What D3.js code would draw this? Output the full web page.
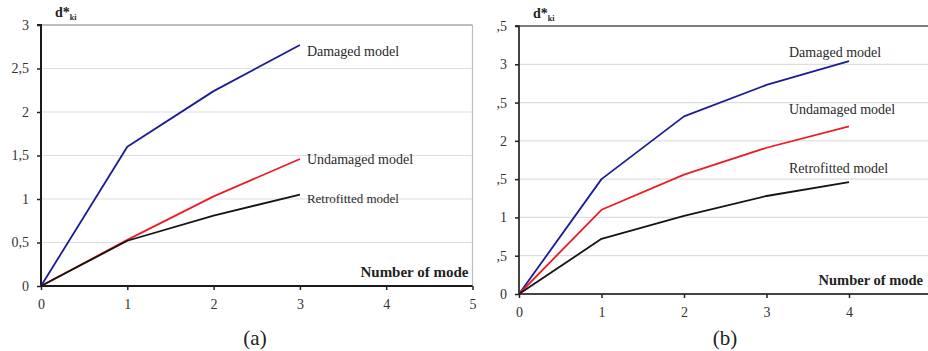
<!DOCTYPE html>
<html>
<head>
<meta charset="utf-8">
<script src="https://cdn.jsdelivr.net/npm/d3@7"></script>
<style>
  html, body { margin: 0; padding: 0; background: #fff; }
  svg { display: block; }
  svg text { font-family: "Liberation Serif", "Times New Roman", "DejaVu Serif", serif; }
</style>
</head>
<body>
<svg id="chart" width="928" height="351"></svg>
<script>
// Normalised modal displacement d*ki per mode number, two buildings
const modesA = [0, 1, 2, 3];
const damagedA = [0, 1.60, 2.24, 2.77];
const undamagedA = [0, 0.53, 1.03, 1.46];
const retrofittedA = [0, 0.52, 0.81, 1.05];

const modesB = [0, 1, 2, 3, 4];
const damagedB = [0, 1.50, 2.32, 2.73, 3.04];
const undamagedB = [0, 1.10, 1.56, 1.91, 2.19];
const retrofittedB = [0, 0.72, 1.02, 1.28, 1.46];

const seriesNames = ["Damaged model", "Undamaged model", "Retrofitted model"];
const seriesColors = ["#1c1c96", "#ec1c24", "#141414"];

const xTicksA = [0, 1, 2, 3, 4, 5];
const xTicksB = [0, 1, 2, 3, 4];
const yTicksA = [0, 0.5, 1, 1.5, 2, 2.5, 3];
const yLabelsA = ["0", "0,5", "1", "1,5", "2", "2,5", "3"];
const yTicksB = [0, 0.5, 1, 1.5, 2, 2.5, 3, 3.5];
const yLabelsB = ["0", ",5", "1", ",5", "2", ",5", "3", ",5"];

const svg = d3.select("#chart");

function panel(cfg) {
  const x = d3.scaleLinear().domain([0, 5]).range([cfg.left, cfg.right]);
  const y = d3.scaleLinear().domain([0, cfg.yMax]).range([cfg.bottom, cfg.top]);
  const g = svg.append("g");

  // horizontal gridlines
  g.selectAll("line.grid").data(cfg.yTicks.filter(t => t > 0 && t < cfg.yMax)).join("line")
    .attr("x1", cfg.left).attr("x2", cfg.right)
    .attr("y1", d => y(d)).attr("y2", d => y(d))
    .attr("stroke", "#dedede").attr("stroke-width", 1.2);

  // top border of the plot area
  g.append("line").attr("x1", cfg.left).attr("x2", cfg.right)
    .attr("y1", y(cfg.yMax)).attr("y2", y(cfg.yMax))
    .attr("stroke", cfg.topColor).attr("stroke-width", 1.5);

  if (cfg.rightFrame) {
    g.append("line").attr("x1", cfg.right).attr("x2", cfg.right)
      .attr("y1", y(cfg.yMax)).attr("y2", y(0))
      .attr("stroke", "#bdbdbd").attr("stroke-width", 1.2);
  }

  // axes
  const yAxis = d3.axisLeft(y).tickValues(cfg.yTicks)
    .tickFormat((d, i) => cfg.yLabels[i]).tickSize(4).tickPadding(8);
  const ya = g.append("g").attr("transform", `translate(${cfg.left},0)`).call(yAxis);
  const xAxis = d3.axisBottom(x).tickValues(cfg.xTicks).tickFormat(d3.format("d")).tickSize(4).tickPadding(9);
  const xa = g.append("g").attr("transform", `translate(0,${cfg.bottom})`).call(xAxis);
  [ya, xa].forEach(a => {
    a.select(".domain").attr("stroke", cfg.axisColor).attr("stroke-width", 2);
    a.selectAll(".tick line").attr("stroke", "#222").attr("stroke-width", 1.5);
    a.selectAll(".tick text").attr("fill", "#333").attr("font-size", 14)
      .attr("font-family", null);
  });
  ya.select(".domain").attr("d", `M-4,${y(cfg.yMax)}H0V${y(0)}`);
  xa.select(".domain").attr("d", `M${cfg.left},0H${cfg.right}`);

  // series lines
  const line = d3.line().x((d, i) => x(cfg.modes[i])).y(d => y(d));
  cfg.series.forEach((vals, k) => {
    g.append("path").datum(vals)
      .attr("d", line)
      .attr("fill", "none")
      .attr("stroke", seriesColors[k])
      .attr("stroke-width", 1.8)
      .attr("stroke-linejoin", "round");
  });

  // series labels beside the last mode
  const last = cfg.modes.length - 1;
  cfg.series.forEach((vals, k) => {
    g.append("text")
      .attr("x", x(cfg.modes[last]) + cfg.labelDx)
      .attr("y", y(vals[last]) + cfg.labelDy[k])
      .attr("fill", "#2a2a2a")
      .attr("font-size", cfg.labelSize[k])
      .text(seriesNames[k]);
  });

  // axis titles
  const yt = g.append("text").attr("x", cfg.left + 14).attr("y", cfg.top - 8)
    .attr("font-weight", "bold").attr("font-size", 14).attr("fill", "#222");
  yt.append("tspan").text("d*");
  yt.append("tspan").attr("font-size", 8).attr("dy", 3).text("ki");

  g.append("text").attr("x", Math.min(cfg.right, 927) - 4).attr("y", cfg.bottom - 9)
    .attr("text-anchor", "end").attr("font-weight", "bold")
    .attr("font-size", cfg.titleSize).attr("fill", "#222")
    .text("Number of mode");

  g.append("text").attr("x", cfg.captionX).attr("y", 345)
    .attr("text-anchor", "middle").attr("font-size", 21).attr("fill", "#222")
    .text(cfg.caption);
}

panel({
  left: 41, right: 472.5, top: 25, bottom: 286, yMax: 3,
  yTicks: yTicksA, yLabels: yLabelsA, xTicks: xTicksA, modes: modesA,
  series: [damagedA, undamagedA, retrofittedA],
  labelDx: 7, labelDy: [11, 5, 8], labelSize: [14, 14, 13],
  topColor: "#a8a8a8", axisColor: "#1a1a1a", rightFrame: true,
  titleSize: 15, caption: "(a)", captionX: 255
});

panel({
  left: 519, right: 931.5, top: 26, bottom: 294, yMax: 3.5,
  yTicks: yTicksB, yLabels: yLabelsB, xTicks: xTicksB, modes: modesB,
  series: [damagedB, undamagedB, retrofittedB],
  labelDx: -60, labelDy: [-4, -12, -9], labelSize: [14, 14, 14],
  topColor: "#555", axisColor: "#444", rightFrame: false,
  titleSize: 14.5, caption: "(b)", captionX: 725
});
</script>
</body>
</html>
